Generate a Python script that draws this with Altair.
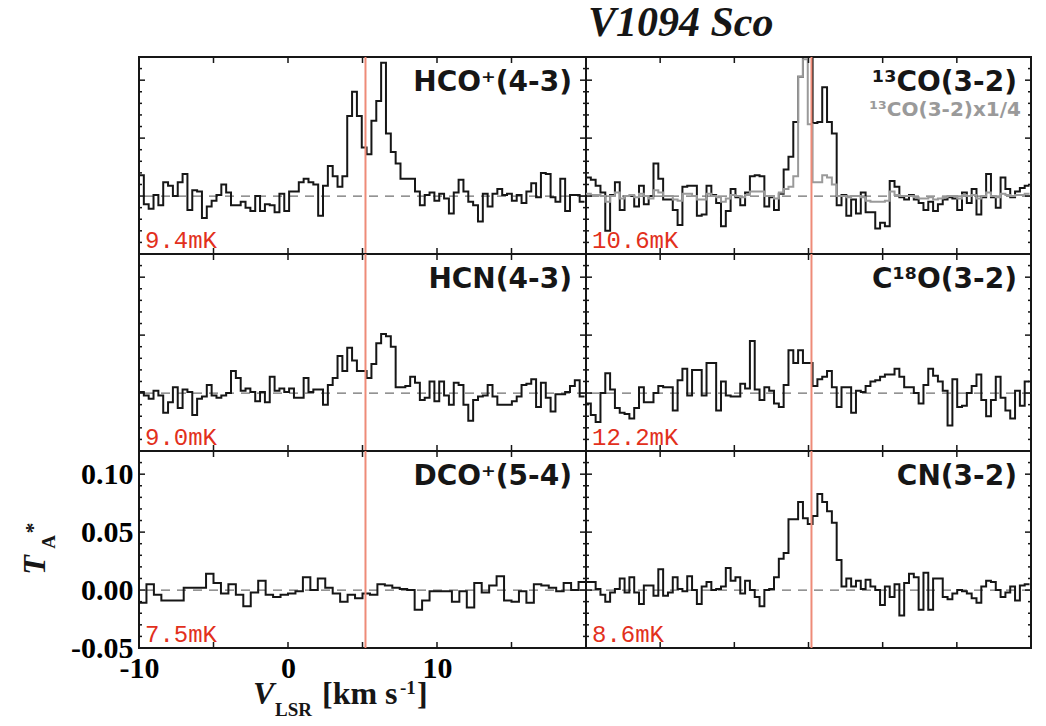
import altair as alt
import pandas as pd

# ---------------- data ----------------
V_START = -10.0
CHAN = 0.325        # km/s channel width of most spectra
CHAN_DCO = 0.5      # km/s channel width of DCO+ spectrum
V_SYS = 5.2         # systemic velocity (red line)
X_DOMAIN = [-10, 20]
Y_DOMAIN = [-0.05, 0.12]

hco_43 = [
    0.018, -0.007, -0.011, 0.001, -0.008, 0.012, 0.009, 0.000, 0.012, 0.019,
    -0.012, 0.005, 0.004, -0.019, -0.009, -0.004, 0.001, 0.010, 0.003, -0.008,
    -0.008, -0.005, -0.010, -0.013, 0.000, -0.013, -0.007, -0.008, -0.014, 0.002,
    -0.013, 0.004, 0.004, 0.012, 0.015, 0.012, 0.010, -0.017, 0.009, 0.026,
    0.017, 0.008, 0.017, 0.069, 0.090, 0.069, 0.042, 0.036, 0.065, 0.082,
    0.115, 0.054, 0.038, 0.028, 0.015, 0.015, 0.015, 0.004, -0.008, 0.001,
    0.003, -0.004, 0.002, -0.002, -0.015, 0.003, 0.014, 0.004, -0.005, -0.008,
    -0.022, 0.002, -0.009, 0.002, 0.006, 0.001, 0.002, -0.004, 0.001, -0.006,
    0.004, 0.011, -0.001, 0.020, 0.019, -0.001, -0.005, 0.015, -0.013, 0.001,
    0.001, -0.005,
]

co13_32 = [
    0.016, 0.014, 0.009, 0.003, -0.030, 0.001, 0.012, -0.012, 0.000, 0.000,
    -0.009, 0.009, -0.007, 0.000, 0.028, 0.015, -0.003, -0.003, -0.012, -0.025,
    0.008, 0.009, 0.009, -0.017, -0.016, 0.009, 0.001, -0.006, -0.026, -0.013,
    0.006, -0.001, -0.008, 0.003, 0.017, 0.018, 0.017, -0.009, -0.001, -0.012,
    0.002, 0.023, 0.034, 0.064, 0.103, 0.160, 0.150, 0.063, 0.064, 0.094,
    0.064, 0.054, -0.008, 0.001, -0.017, -0.003, -0.015, 0.003, -0.014, -0.014,
    -0.028, -0.023, -0.026, 0.013, 0.008, -0.001, -0.003, 0.001, -0.003, -0.006,
    -0.012, -0.005, -0.013, -0.007, -0.003, -0.001, -0.002, -0.012, 0.003, -0.006,
    0.006, -0.016, -0.001, 0.019, -0.001, -0.010, 0.016, 0.006, -0.001, 0.004,
    0.007, 0.009,
]

co13_32_quarter = [
    0.002, 0.001, 0.001, 0.000, -0.005, 0.000, 0.003, -0.002, 0.000, 0.001,
    -0.001, 0.002, 0.000, -0.002, 0.005, 0.003, 0.000, 0.000, -0.003, -0.004,
    0.002, 0.002, 0.000, -0.003, -0.003, 0.002, 0.000, -0.001, -0.005, -0.002,
    0.001, 0.000, -0.001, 0.001, 0.004, 0.004, 0.004, 0.000, 0.000, -0.002,
    0.003, 0.006, 0.008, 0.017, 0.103, 0.118, 0.062, 0.012, 0.012, 0.018,
    0.016, 0.010, 0.000, 0.000, -0.001, 0.000, 0.000, -0.001, -0.004, -0.005,
    -0.005, -0.005, -0.004, 0.004, 0.001, 0.000, 0.000, 0.000, -0.001, -0.002,
    -0.002, -0.001, -0.003, -0.002, -0.001, 0.000, 0.000, -0.002, 0.001, 0.000,
    0.001, -0.002, 0.000, 0.003, 0.000, -0.001, 0.002, 0.001, 0.000, 0.001,
    0.001, 0.002,
]

hcn_43 = [
    0.001, -0.002, -0.005, 0.002, -0.002, -0.017, -0.008, 0.005, -0.013, 0.003,
    0.001, -0.019, -0.005, -0.003, 0.007, -0.002, -0.004, -0.002, 0.000, 0.019,
    0.013, 0.002, 0.004, 0.001, -0.007, 0.001, -0.008, 0.014, 0.002, 0.004,
    0.001, 0.004, -0.004, -0.004, 0.013, 0.001, 0.003, 0.003, -0.010, 0.007,
    0.013, 0.032, 0.019, 0.039, 0.028, 0.019, 0.019, 0.013, 0.025, 0.043,
    0.051, 0.049, 0.040, 0.005, 0.005, 0.006, 0.014, 0.009, -0.006, -0.004,
    0.010, -0.007, 0.010, -0.002, -0.010, 0.009, 0.007, -0.010, -0.024, -0.006,
    -0.003, -0.002, 0.007, -0.003, -0.010, -0.010, -0.010, -0.007, -0.003, 0.007,
    0.008, 0.012, -0.012, 0.009, -0.004, -0.016, -0.001, -0.001, 0.001, 0.006,
    0.011, -0.003,
]

c18o_32 = [
    -0.009, -0.019, -0.025, 0.000, 0.017, 0.003, -0.013, -0.017, -0.018, -0.022,
    -0.013, 0.005, -0.008, -0.008, 0.000, 0.006, 0.005, 0.005, -0.015, 0.011,
    0.021, -0.002, 0.020, 0.020, -0.002, 0.026, 0.026, -0.015, 0.010, -0.002,
    -0.003, -0.003, 0.008, 0.004, 0.045, 0.003, -0.006, 0.005, 0.002, -0.009,
    -0.012, 0.007, 0.037, 0.026, 0.037, 0.026, 0.026, 0.006, 0.012, 0.014,
    0.019, 0.005, -0.012, 0.005, 0.005, -0.017, 0.002, 0.001, 0.006, 0.010,
    0.011, 0.014, 0.016, 0.016, 0.021, 0.014, 0.005, 0.005, 0.000, -0.009,
    0.007, 0.021, 0.015, 0.010, 0.002, -0.028, 0.012, -0.012, -0.011, 0.000,
    0.006, 0.016, -0.006, -0.020, -0.006, 0.014, -0.004, -0.015, -0.022, 0.002,
    -0.011, 0.010,
]

dco_54 = [
    -0.011, 0.005, -0.004, -0.009, -0.009, -0.009, 0.002, 0.002, 0.002, 0.014,
    0.006, -0.003, 0.005, -0.004, -0.014, -0.002, 0.008, -0.004, -0.006, -0.004,
    -0.003, -0.001, 0.011, 0.000, 0.010, 0.002, -0.003, -0.010, -0.004, -0.007,
    -0.003, -0.004, 0.005, 0.004, 0.002, 0.001, 0.000, -0.017, -0.009, -0.001,
    -0.001, -0.001, -0.010, -0.001, -0.015, 0.006, -0.002, 0.004, 0.012, -0.009,
    -0.010, -0.001, -0.011, 0.005, 0.004, 0.002, -0.001, 0.006, 0.000, 0.007,
]

cn_32 = [
    0.007, 0.007, 0.001, -0.004, -0.010, -0.002, 0.001, 0.010, -0.002, 0.011,
    -0.002, -0.012, 0.004, 0.004, -0.005, 0.018, -0.005, -0.002, 0.011, 0.001,
    -0.001, 0.012, 0.000, -0.012, 0.003, 0.007, 0.000, 0.001, 0.003, 0.019,
    0.008, 0.011, -0.003, 0.008, 0.000, -0.006, -0.014, 0.000, 0.001, 0.011,
    0.027, 0.032, 0.061, 0.061, 0.076, 0.062, 0.057, 0.064, 0.083, 0.076,
    0.068, 0.058, 0.026, 0.003, 0.010, 0.003, 0.008, 0.001, 0.009, 0.003,
    0.000, -0.013, 0.003, -0.006, 0.005, -0.022, 0.006, 0.014, 0.011, -0.017,
    0.015, -0.017, 0.010, 0.010, -0.006, -0.008, -0.003, 0.000, -0.001, -0.003,
    -0.007, -0.011, 0.003, 0.008, 0.007, 0.000, -0.006, -0.002, 0.003, -0.009,
    0.004, 0.005,
]

panel_labels = ["HCO⁺(4-3)", "¹³CO(3-2)", "HCN(4-3)", "C¹⁸O(3-2)", "DCO⁺(5-4)", "CN(3-2)"]
noise_labels = ["9.4mK", "10.6mK", "9.0mK", "12.2mK", "7.5mK", "8.6mK"]
scaled_label = "¹³CO(3-2)x1/4"
main_title = "V1094 Sco"
x_tick_labels = [-10, 0, 10]
y_tick_labels = [-0.05, 0.0, 0.05, 0.10]
y_minor_ticks = [-0.04, -0.03, -0.02, -0.01, 0.01, 0.02, 0.03, 0.04,
                 0.06, 0.07, 0.08, 0.09, 0.11]
y_major_ticks = [0.0, 0.05, 0.10]
x_ticks = [-5, 0, 5, 10, 15]

# ---------------- style ----------------
W_LEFT, W_RIGHT, H = 447, 445, 197
INK = "#161616"
GRAY = "#9a9a9a"
RED_TEXT = "#e2301c"
RED_LINE = "#ee8b78"
SERIF = "Liberation Serif"
SANS = "DejaVu Sans"
MONO = "Liberation Mono"


def step_frame(values, dv):
    n = len(values)
    v = [V_START + k * dv for k in range(n + 1)]
    t = list(values) + [values[-1]]
    return pd.DataFrame({"v": v, "t": t})


def text_layer(s, x, y, **kw):
    return alt.Chart(pd.DataFrame({"s": [s]})).mark_text(**kw).encode(
        text="s:N", x=alt.value(x), y=alt.value(y)
    )


def panel(series, label, noise, width, show_axes=False, clip=False, extras=()):
    xs = alt.Scale(domain=X_DOMAIN, nice=False, zero=False)
    ys = alt.Scale(domain=Y_DOMAIN, nice=False, zero=False)
    if show_axes:
        xaxis = alt.Axis(values=x_tick_labels, ticks=False, domain=False, grid=False,
                         title=None, labelFont=SERIF, labelFontSize=30,
                         labelFontWeight="bold", labelColor="black", labelPadding=5,
                         labelFlush=False, labelOverlap=False,
                         labelExpr="datum.value < 0 ? '-' + format(-datum.value, 'd') : format(datum.value, 'd')")
        yaxis = alt.Axis(values=y_tick_labels, ticks=False, domain=False, grid=False,
                         title=None, labelFont=SERIF, labelFontSize=30,
                         labelFontWeight="bold", labelColor="black", labelPadding=6,
                         labelFlush=False, labelOverlap=False,
                         labelExpr="datum.value < 0 ? '-' + format(-datum.value, '.2f') : format(datum.value, '.2f')")
    else:
        xaxis = None
        yaxis = None

    def X(f):
        return alt.X(f, type="quantitative", scale=xs, axis=xaxis)

    def Y(f):
        return alt.Y(f, type="quantitative", scale=ys, axis=yaxis)

    layers = []
    layers.append(
        alt.Chart(pd.DataFrame({"t": [0.0]})).mark_rule(
            color="#707070", strokeWidth=1.2, strokeDash=[9, 7]
        ).encode(y=Y("t"))
    )
    for values, dv, color in series:
        layers.append(
            alt.Chart(step_frame(values, dv)).mark_line(
                interpolate="step-after", color=color, strokeWidth=2, clip=clip
            ).encode(x=X("v"), y=Y("t"))
        )
    layers.append(
        alt.Chart(pd.DataFrame({"v": [V_SYS]})).mark_rule(
            color=RED_LINE, strokeWidth=2
        ).encode(x=X("v"))
    )
    # inward ticks
    minor = pd.DataFrame({"t": y_minor_ticks})
    major = pd.DataFrame({"t": y_major_ticks})
    xt = pd.DataFrame({"v": x_ticks})
    for df, ln in ((minor, 3), (major, 6)):
        layers.append(alt.Chart(df).mark_rule(color=INK, strokeWidth=1.5).encode(
            y=Y("t"), x=alt.value(0), x2=alt.value(ln)))
        layers.append(alt.Chart(df).mark_rule(color=INK, strokeWidth=1.5).encode(
            y=Y("t"), x=alt.value(width), x2=alt.value(width - ln)))
    layers.append(alt.Chart(xt).mark_rule(color=INK, strokeWidth=1.5).encode(
        x=X("v"), y=alt.value(0), y2=alt.value(6)))
    layers.append(alt.Chart(xt).mark_rule(color=INK, strokeWidth=1.5).encode(
        x=X("v"), y=alt.value(H), y2=alt.value(H - 6)))

    layers.append(text_layer(label, width - 14, 34, align="right", baseline="alphabetic",
                             font=SANS, fontWeight="bold", fontSize=28, color=INK))
    layers.append(text_layer(noise, 6, H - 6, align="left", baseline="alphabetic",
                             font=MONO, fontSize=24, color=RED_TEXT))
    layers.extend(extras)
    return alt.layer(*layers).properties(width=width, height=H)


top_right_extras = [
    text_layer(scaled_label, W_RIGHT - 10, 59, align="right", baseline="alphabetic",
               font=SANS, fontWeight="bold", fontSize=20, color=GRAY),
    text_layer(main_title, 2, -21, align="left", baseline="alphabetic",
               font=SERIF, fontWeight="bold", fontStyle="italic", fontSize=42, color=INK),
]

bottom_left_extras = [
    # x-axis title  V_LSR [km s^-1]
    text_layer("V", 114, 253, align="left", baseline="alphabetic", font=SERIF,
               fontWeight="bold", fontStyle="italic", fontSize=32, color=INK),
    text_layer("LSR", 136, 265, align="left", baseline="alphabetic", font=SERIF,
               fontWeight="bold", fontSize=19, color=INK),
    text_layer("[km s", 183, 253, align="left", baseline="alphabetic", font=SERIF,
               fontWeight="bold", fontSize=32, color=INK),
    text_layer("-1", 261, 243, align="left", baseline="alphabetic", font=SERIF,
               fontWeight="bold", fontSize=19, color=INK),
    text_layer("]", 278, 253, align="left", baseline="alphabetic", font=SERIF,
               fontWeight="bold", fontSize=32, color=INK),
    # y-axis title  T_A^*
    text_layer("T", -104, 114, align="center", baseline="middle", angle=270, font=SERIF,
               fontWeight="bold", fontStyle="italic", fontSize=32, color=INK),
    text_layer("A", -90, 91, align="center", baseline="middle", angle=270, font=SERIF,
               fontWeight="bold", fontSize=19, color=INK),
    text_layer("*", -106, 77, align="center", baseline="middle", angle=270, font=SERIF,
               fontWeight="bold", fontSize=22, color=INK),
]

p1 = panel([(hco_43, CHAN, INK)], panel_labels[0], noise_labels[0], W_LEFT)
p2 = panel([(co13_32, CHAN, INK), (co13_32_quarter, CHAN, GRAY)], panel_labels[1],
           noise_labels[1], W_RIGHT, clip=True, extras=top_right_extras)
p3 = panel([(hcn_43, CHAN, INK)], panel_labels[2], noise_labels[2], W_LEFT)
p4 = panel([(c18o_32, CHAN, INK)], panel_labels[3], noise_labels[3], W_RIGHT)
p5 = panel([(dco_54, CHAN_DCO, INK)], panel_labels[4], noise_labels[4], W_LEFT,
           show_axes=True, extras=bottom_left_extras)
p6 = panel([(cn_32, CHAN, INK)], panel_labels[5], noise_labels[5], W_RIGHT)

chart = alt.concat(p1, p2, p3, p4, p5, p6, columns=2, spacing=0,
                   bounds="flush").properties(
    padding={"left": 18, "top": 1, "right": 5, "bottom": 0},
    background="white",
).configure_view(stroke=INK, strokeWidth=2)

chart.save("out.html", embed_options={"renderer": "svg", "actions": False})
